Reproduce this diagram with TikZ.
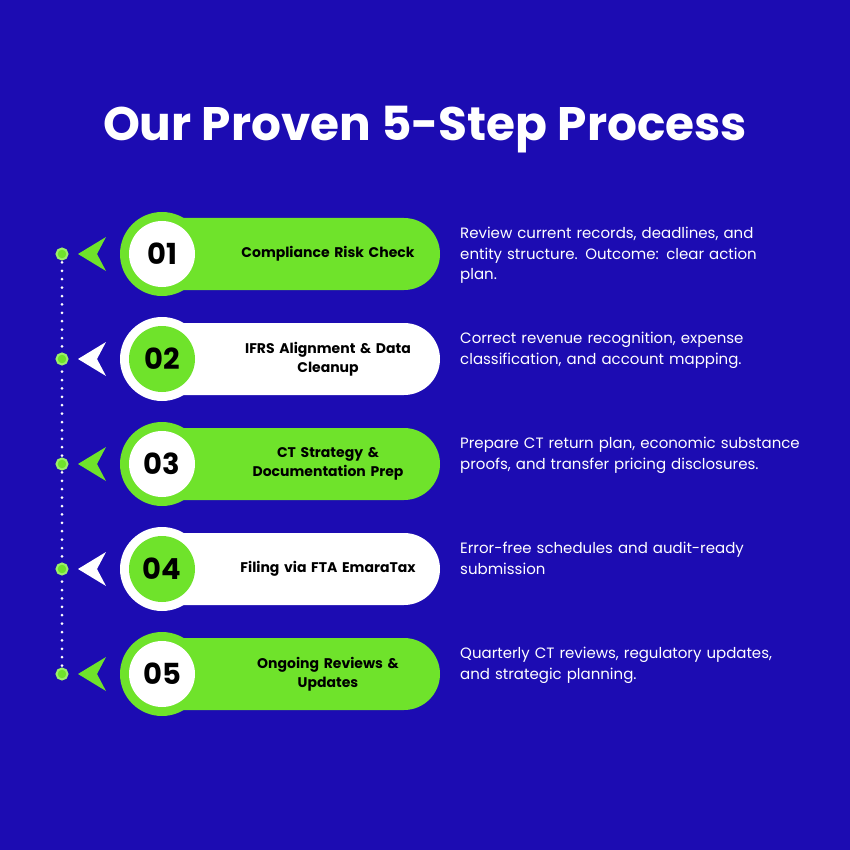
\documentclass[tikz,border=0pt]{standalone}
\usepackage{fontspec}
\setmainfont{Poppins}
\definecolor{bg}{HTML}{1C0CB2}
\definecolor{gr}{HTML}{6FE32B}
\definecolor{grl}{HTML}{9BF06A}
\begin{document}
\begin{tikzpicture}[x=1pt,y=-1pt,
  desc/.style={anchor=north west,align=left,text=white,font=\fontsize{15}{20.5}\selectfont,inner sep=0pt,text width=360pt},
  lbl/.style={align=center,font=\fontsize{14}{19}\selectfont\bfseries,text=black,text width=200pt},
  num/.style={font=\fontsize{29}{29}\selectfont\bfseries,text=black},
  dotn/.style={circle,fill=gr,draw=grl,line width=2pt,minimum size=11pt,inner sep=0pt}]
\fill[bg] (0,0) rectangle (850,850);
\useasboundingbox (0,0) rectangle (850,850);
\node[text=white,font=\fontsize{47}{47}\selectfont\bfseries] (title) at (425,130) {Our Proven 5-Step Process};
\coordinate (top) at (62,254);
\coordinate (bot) at (62,674);
\draw[white,line width=3pt,line cap=round,dash pattern=on 0pt off 8.4pt] (top) -- (bot);
\foreach \i/\y/\t/\d/\odd in {
 1/254/{Compliance Risk Check}/{Review current records, deadlines, and\\entity structure. Outcome: clear action\\plan.}/1,
 2/359/{IFRS Alignment \& Data\\Cleanup}/{Correct revenue recognition, expense\\classification, and account mapping.}/0,
 3/464/{CT Strategy \&\\Documentation Prep}/{Prepare CT return plan, economic substance\\proofs, and transfer pricing disclosures.}/1,
 4/569/{Filing via FTA EmaraTax}/{Error-free schedules and audit-ready\\submission}/0,
 5/674/{Ongoing Reviews \&\\Updates}/{Quarterly CT reviews, regulatory updates,\\and strategic planning.}/1}{
  \ifnum\odd=1 \def\outc{gr}\def\inc{white}\else \def\outc{white}\def\inc{gr}\fi
  \fill[\outc] (180,\y-36) -- (404,\y-36) arc[start angle=-90,end angle=90,radius=36] -- (180,\y+36) -- cycle;
  \fill[\outc] (162,\y) circle (42);
  \fill[\inc] (162,\y) circle (33);
  \node[num] (n\i) at (162,\y) {0\i};
  \node[lbl] (p\i) at (328,\y) {\t};
  \node[desc] (d\i) at (460,\y-27) {\d};
  \fill[\outc] (78,\y) -- (106,\y-17) -- (97,\y) -- (106,\y+17) -- cycle;
  \node[dotn] (c\i) at (62,\y) {};
}
\end{tikzpicture}
\end{document}
